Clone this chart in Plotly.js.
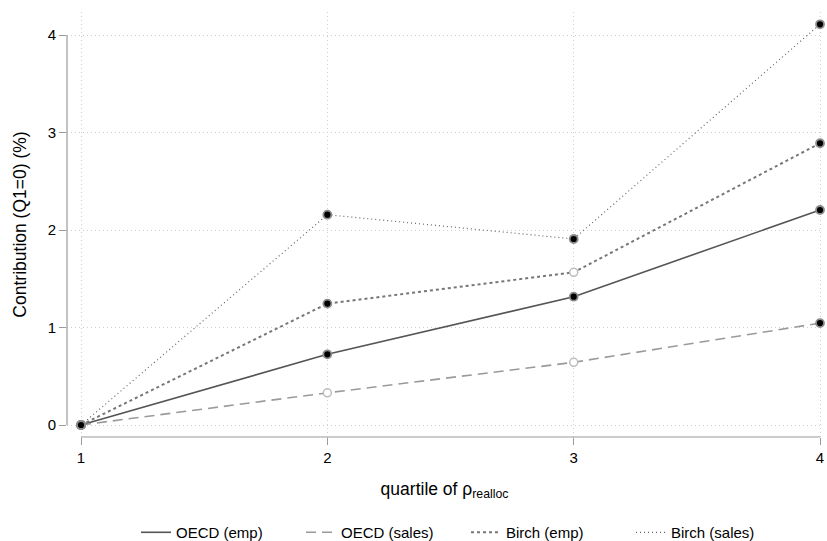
<!DOCTYPE html>
<html>
<head>
<meta charset="utf-8">
<script src="https://cdn.plot.ly/plotly-3.0.1.min.js"></script>
<style>html,body{margin:0;padding:0;background:#fff;}#chart{width:827px;height:541px;}</style>
</head>
<body>
<div id="chart"></div>
<script>
// ---- data ----
const quartiles = [1, 2, 3, 4];
const xTickLabels = ['1', '2', '3', '4'];
const yTickVals = [0, 1, 2, 3, 4];
const seriesNames = ['OECD (emp)', 'OECD (sales)', 'Birch (emp)', 'Birch (sales)'];
const oecdEmp = [0, 0.725, 1.316, 2.205];
const oecdSales = [0, 0.330, 0.643, 1.045];
const birchEmp = [0, 1.245, 1.566, 2.890];
const birchSales = [0, 2.157, 1.908, 4.110];
// significance flags (filled black marker = true, hollow = false)
const oecdEmpSig = [true, true, true, true];
const oecdSalesSig = [true, false, false, true];
const birchEmpSig = [true, true, false, true];
const birchSalesSig = [true, true, true, true];

// ---- styles ----
const lineStyles = [
  {color: '#555555', width: 1.6, dash: 'solid'},
  {color: '#9a9a9a', width: 1.6, dash: '10px,6px'},
  {color: '#777777', width: 2.0, dash: '3px,3px'},
  {color: '#666666', width: 1.2, dash: '1px,3px'}
];
const allY = [oecdEmp, oecdSales, birchEmp, birchSales];
const allSig = [oecdEmpSig, oecdSalesSig, birchEmpSig, birchSalesSig];

const traces = [];
allY.forEach((ys, i) => {
  traces.push({
    x: quartiles, y: ys, type: 'scatter', mode: 'lines',
    name: seriesNames[i], line: lineStyles[i], cliponaxis: false,
    hoverinfo: 'skip'
  });
});
allY.forEach((ys, i) => {
  const sig = allSig[i];
  traces.push({
    x: quartiles, y: ys, type: 'scatter', mode: 'markers', showlegend: false,
    cliponaxis: false, hoverinfo: 'skip',
    marker: {
      size: 8,
      color: sig.map(s => s ? '#000000' : '#ffffff'),
      line: {color: sig.map(s => s ? '#8c8c8c' : '#bdbdbd'), width: sig.map(s => s ? 1.8 : 1.5)}
    }
  });
});

const layout = {
  width: 827, height: 541,
  margin: {l: 67, r: 5, t: 12, b: 104, autoexpand: false},
  paper_bgcolor: '#ffffff', plot_bgcolor: '#ffffff',
  font: {family: 'Liberation Sans, Arial, Helvetica, sans-serif', size: 15, color: '#000000'},
  showlegend: true,
  legend: {
    orientation: 'h', x: 0.0914, xanchor: 'left', y: -0.186, yanchor: 'top',
    font: {size: 15, color: '#000000'}, itemwidth: 30, entrywidth: 120, entrywidthmode: 'pixels'
  },
  xaxis: {
    range: [0.943, 4.008], automargin: false,
    tickmode: 'array', tickvals: quartiles, ticktext: xTickLabels,
    showgrid: true, gridcolor: '#cfcfcf', griddash: '1px,3px', gridwidth: 1,
    zeroline: false, showline: false,
    ticks: 'outside', ticklen: 7, tickcolor: '#9a9a9a', tickwidth: 1,
    tickfont: {size: 15},
    title: {text: 'quartile of ρ<sub>realloc</sub>', font: {size: 17.5}, standoff: 17}
  },
  yaxis: {
    range: [-0.123, 4.236], automargin: false,
    tickmode: 'array', tickvals: yTickVals, ticktext: yTickVals.map(String),
    showgrid: true, gridcolor: '#cfcfcf', griddash: '1px,3px', gridwidth: 1,
    zeroline: false, showline: false,
    ticks: 'outside', ticklen: 7, tickcolor: '#9a9a9a', tickwidth: 1,
    tickfont: {size: 15},
    title: {text: 'Contribution (Q1=0) (%)', font: {size: 17.5}, standoff: 16}
  },
  shapes: [
    {type: 'line', xref: 'x', yref: 'paper', x0: 1, x1: 4, y0: 0, y1: 0,
     line: {color: '#9a9a9a', width: 1.2}},
    {type: 'line', xref: 'paper', yref: 'y', x0: 0, x1: 0, y0: 0, y1: 4,
     line: {color: '#9a9a9a', width: 1.2}}
  ]
};

Plotly.newPlot('chart', traces, layout, {displayModeBar: false, staticPlot: true});
</script>
</body>
</html>
